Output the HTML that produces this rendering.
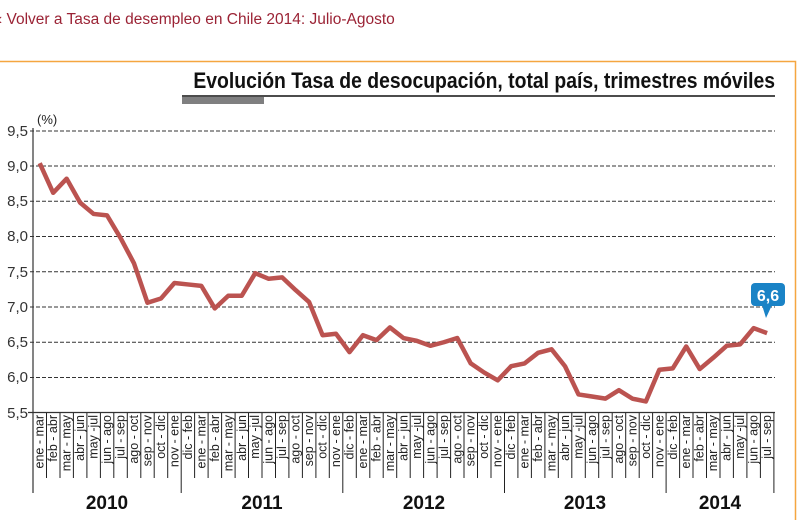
<!DOCTYPE html>
<html><head><meta charset="utf-8"><style>
html,body{margin:0;padding:0;background:#fff;width:798px;height:520px;overflow:hidden}
svg{display:block}
</style></head><body>
<svg width="798" height="520" viewBox="0 0 798 520" xmlns="http://www.w3.org/2000/svg" font-family="Liberation Sans, Arial, sans-serif">
<text x="-3" y="24" font-size="15.5" fill="#9b2335">‹ Volver a Tasa de desempleo en Chile 2014: Julio-Agosto</text>
<path d="M0 61.5H795.5V520" fill="none" stroke="#f5a640" stroke-width="1.5"/>
<text x="775" y="88" text-anchor="end" font-size="22" font-weight="bold" fill="#111" transform="translate(775,0) scale(0.88,1) translate(-775,0)">Evolución Tasa de desocupación, total país, trimestres móviles</text>
<line x1="182" y1="96" x2="775" y2="96" stroke="#111" stroke-width="1.5"/>
<rect x="182" y="97" width="82" height="7" fill="#7f7f80"/>
<text x="37" y="124" font-size="13" fill="#222">(%)</text>
<g stroke="#333" stroke-width="1" stroke-dasharray="4,2">
<line x1="30" y1="131" x2="775" y2="131"/>
<line x1="30" y1="166" x2="775" y2="166"/>
<line x1="30" y1="201.3" x2="775" y2="201.3"/>
<line x1="30" y1="236.5" x2="775" y2="236.5"/>
<line x1="30" y1="271.8" x2="775" y2="271.8"/>
<line x1="30" y1="307" x2="775" y2="307"/>
<line x1="30" y1="342.3" x2="775" y2="342.3"/>
<line x1="30" y1="377.5" x2="775" y2="377.5"/>
</g>
<g font-size="15" fill="#333" text-anchor="end">
<text x="28" y="136">9,5</text><text x="28" y="171">9,0</text><text x="28" y="206">8,5</text><text x="28" y="241">8,0</text><text x="28" y="277">7,5</text><text x="28" y="312">7,0</text><text x="28" y="347">6,5</text><text x="28" y="382">6,0</text><text x="28" y="418">5,5</text>
</g>
<line x1="33" y1="128" x2="33" y2="493" stroke="#333" stroke-width="1.2"/>
<line x1="28" y1="412.5" x2="775" y2="412.5" stroke="#333" stroke-width="1.2"/>
<path stroke="#222" stroke-width="1" fill="none" d="M46.5 413V478M60 413V478M73.4 413V478M86.9 413V478M100.4 413V478M113.8 413V478M127.3 413V478M140.8 413V478M154.2 413V478M167.7 413V478M194.6 413V478M208.1 413V478M221.6 413V478M235.1 413V478M248.5 413V478M262 413V478M275.5 413V478M288.9 413V478M302.4 413V478M315.9 413V478M329.3 413V478M356.3 413V478M369.8 413V478M383.2 413V478M396.7 413V478M410.2 413V478M423.6 413V478M437.1 413V478M450.6 413V478M464 413V478M477.5 413V478M491 413V478M517.9 413V478M531.4 413V478M544.9 413V478M558.3 413V478M571.8 413V478M585.3 413V478M598.7 413V478M612.2 413V478M625.7 413V478M639.2 413V478M652.6 413V478M679.6 413V478M693 413V478M706.5 413V478M720 413V478M733.4 413V478M746.9 413V478M760.4 413V478M181.2 413V493M342.8 413V493M504.5 413V493M666.1 413V493M773.9 413V493"/>
<g font-size="12.5" fill="#222" text-anchor="end">
<text transform="translate(43.7,415) rotate(-90)">ene - mar</text>
<text transform="translate(57.2,415) rotate(-90)">feb - abr</text>
<text transform="translate(70.6,415) rotate(-90)">mar - may</text>
<text transform="translate(84.1,415) rotate(-90)">abr - jun</text>
<text transform="translate(97.6,415) rotate(-90)">may -jul</text>
<text transform="translate(111.1,415) rotate(-90)">jun - ago</text>
<text transform="translate(124.5,415) rotate(-90)">jul - sep</text>
<text transform="translate(138,415) rotate(-90)">ago - oct</text>
<text transform="translate(151.5,415) rotate(-90)">sep - nov</text>
<text transform="translate(165,415) rotate(-90)">oct - dic</text>
<text transform="translate(178.4,415) rotate(-90)">nov - ene</text>
<text transform="translate(191.9,415) rotate(-90)">dic - feb</text>
<text transform="translate(205.4,415) rotate(-90)">ene - mar</text>
<text transform="translate(218.8,415) rotate(-90)">feb - abr</text>
<text transform="translate(232.3,415) rotate(-90)">mar - may</text>
<text transform="translate(245.8,415) rotate(-90)">abr - jun</text>
<text transform="translate(259.2,415) rotate(-90)">may -jul</text>
<text transform="translate(272.7,415) rotate(-90)">jun - ago</text>
<text transform="translate(286.2,415) rotate(-90)">jul - sep</text>
<text transform="translate(299.6,415) rotate(-90)">ago - oct</text>
<text transform="translate(313.1,415) rotate(-90)">sep - nov</text>
<text transform="translate(326.6,415) rotate(-90)">oct - dic</text>
<text transform="translate(340,415) rotate(-90)">nov - ene</text>
<text transform="translate(353.5,415) rotate(-90)">dic - feb</text>
<text transform="translate(367,415) rotate(-90)">ene - mar</text>
<text transform="translate(380.5,415) rotate(-90)">feb - abr</text>
<text transform="translate(393.9,415) rotate(-90)">mar - may</text>
<text transform="translate(407.4,415) rotate(-90)">abr - jun</text>
<text transform="translate(420.9,415) rotate(-90)">may -jul</text>
<text transform="translate(434.3,415) rotate(-90)">jun - ago</text>
<text transform="translate(447.8,415) rotate(-90)">jul - sep</text>
<text transform="translate(461.3,415) rotate(-90)">ago - oct</text>
<text transform="translate(474.7,415) rotate(-90)">sep - nov</text>
<text transform="translate(488.2,415) rotate(-90)">oct - dic</text>
<text transform="translate(501.7,415) rotate(-90)">nov - ene</text>
<text transform="translate(515.2,415) rotate(-90)">dic - feb</text>
<text transform="translate(528.6,415) rotate(-90)">ene - mar</text>
<text transform="translate(542.1,415) rotate(-90)">feb - abr</text>
<text transform="translate(555.6,415) rotate(-90)">mar - may</text>
<text transform="translate(569,415) rotate(-90)">abr - jun</text>
<text transform="translate(582.5,415) rotate(-90)">may -jul</text>
<text transform="translate(596,415) rotate(-90)">jun - ago</text>
<text transform="translate(609.4,415) rotate(-90)">jul - sep</text>
<text transform="translate(622.9,415) rotate(-90)">ago - oct</text>
<text transform="translate(636.4,415) rotate(-90)">sep - nov</text>
<text transform="translate(649.8,415) rotate(-90)">oct - dic</text>
<text transform="translate(663.3,415) rotate(-90)">nov - ene</text>
<text transform="translate(676.8,415) rotate(-90)">dic - feb</text>
<text transform="translate(690.2,415) rotate(-90)">ene - mar</text>
<text transform="translate(703.7,415) rotate(-90)">feb - abr</text>
<text transform="translate(717.2,415) rotate(-90)">mar - may</text>
<text transform="translate(730.7,415) rotate(-90)">abr - jun</text>
<text transform="translate(744.1,415) rotate(-90)">may -jul</text>
<text transform="translate(757.6,415) rotate(-90)">jun - ago</text>
<text transform="translate(771.1,415) rotate(-90)">jul - sep</text>
</g>
<g font-size="19" font-weight="bold" fill="#111" text-anchor="middle">
<text x="107" y="509">2010</text><text x="262" y="509">2011</text><text x="424" y="509">2012</text><text x="585" y="509">2013</text><text x="720" y="509">2014</text>
</g>
<polyline transform="translate(39.7,800.5) scale(13.47,-70.5)" vector-effect="non-scaling-stroke" fill="none" stroke="#bb5350" stroke-width="4.5" stroke-linejoin="round" points="0,9.04 1,8.62 2,8.82 3,8.48 4,8.32 5,8.3 6,7.98 7,7.62 8,7.06 9,7.12 10,7.34 11,7.32 12,7.3 13,6.98 14,7.16 15,7.16 16,7.48 17,7.4 18,7.42 19,7.24 20,7.07 21,6.6 22,6.62 23,6.36 24,6.6 25,6.53 26,6.71 27,6.56 28,6.52 29,6.45 30,6.5 31,6.56 32,6.2 33,6.07 34,5.96 35,6.16 36,6.2 37,6.35 38,6.4 39,6.16 40,5.76 41,5.73 42,5.7 43,5.82 44,5.7 45,5.66 46,6.11 47,6.13 48,6.44 49,6.12 50,6.28 51,6.45 52,6.47 53,6.7 54,6.63"/>
<rect x="751" y="283" width="34" height="23" rx="4" fill="#1a83c6"/>
<path d="M762 305 L766 318 L772 305 Z" fill="#1a83c6"/>
<text x="768" y="301" text-anchor="middle" font-size="16" font-weight="bold" fill="#fff">6,6</text>
</svg>
</body></html>
